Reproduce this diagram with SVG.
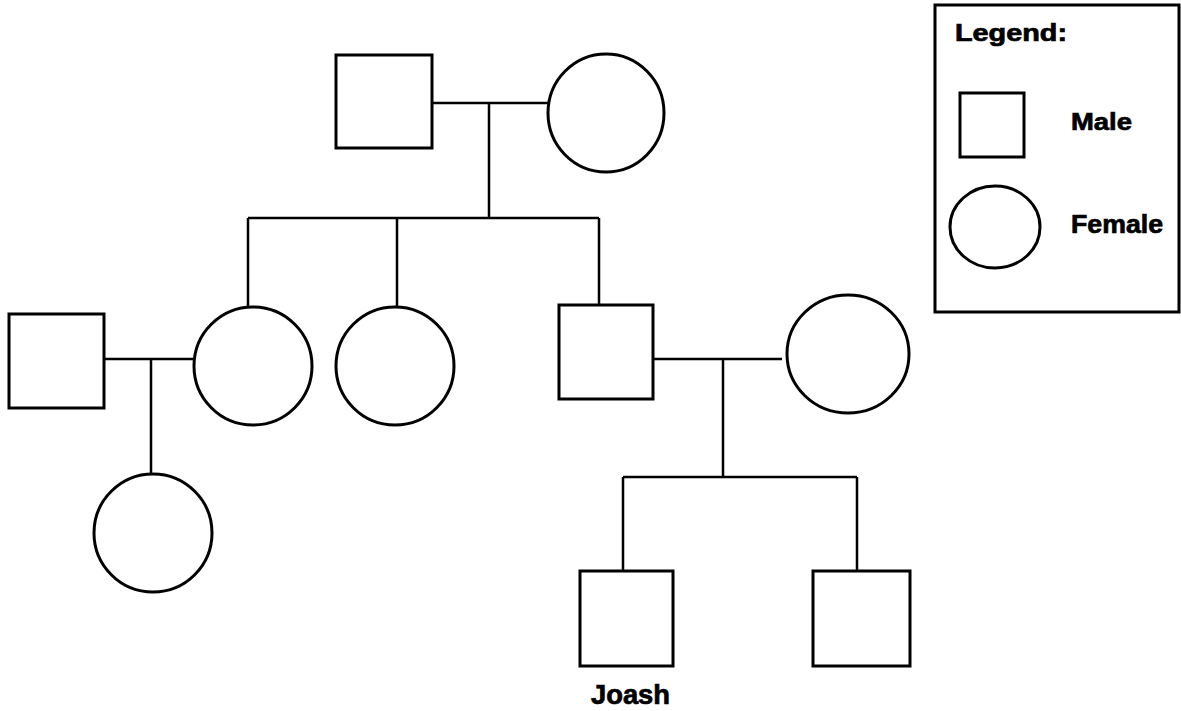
<svg xmlns="http://www.w3.org/2000/svg" width="1181" height="711" viewBox="0 0 1181 711">
<style>
.m{fill:#fff;stroke:#000;stroke-width:3}
.f{fill:#fff;stroke:#000;stroke-width:3}
.c{fill:none;stroke:#000;stroke-width:2.5}
.t{font-family:"Liberation Sans",Arial,sans-serif;font-weight:bold;fill:#000;stroke:#000;stroke-width:0.7}
</style>
<rect width="1181" height="711" fill="#fff"/>
<g id="connectors" class="c">
<path d="M432,103H548 M489,103V218 M248,218H599 M248,218V307 M397,218V307 M599,218V305"/>
<path d="M104,359H194 M151,359V474"/>
<path d="M653,359H782 M723,359V477 M623,477H857 M623,477V571 M857,477V571"/>
</g>
<g id="gf"><rect class="m" x="336" y="55" width="96" height="93"/></g>
<g id="gm"><ellipse class="f" cx="606" cy="113" rx="58" ry="59"/></g>
<g id="d1"><ellipse class="f" cx="253" cy="366" rx="59" ry="59"/></g>
<g id="d2"><ellipse class="f" cx="395" cy="366" rx="59" ry="59"/></g>
<g id="s1"><rect class="m" x="559" y="305" width="94" height="94"/></g>
<g id="h1"><rect class="m" x="9" y="314" width="95" height="94"/></g>
<g id="w1"><ellipse class="f" cx="848" cy="354" rx="61" ry="59"/></g>
<g id="gd"><ellipse class="f" cx="153" cy="533" rx="59" ry="59"/></g>
<g id="joash"><rect class="m" x="580" y="571" width="93" height="95"/>
<text class="t" x="591" y="704" font-size="27" textLength="79" lengthAdjust="spacingAndGlyphs">Joash</text></g>
<g id="gs2"><rect class="m" x="813" y="571" width="97" height="95"/></g>
<g id="legend">
<rect x="935" y="5" width="244" height="307" fill="#fff" stroke="#000" stroke-width="3"/>
<text class="t" x="955" y="41" font-size="23" textLength="112" lengthAdjust="spacingAndGlyphs">Legend:</text>
<rect class="m" x="960" y="93" width="64" height="64"/>
<text class="t" x="1071" y="130" font-size="24" textLength="61" lengthAdjust="spacingAndGlyphs">Male</text>
<ellipse class="f" cx="995" cy="227" rx="45" ry="41"/>
<text class="t" x="1071" y="233" font-size="25" textLength="92" lengthAdjust="spacingAndGlyphs">Female</text>
</g>
</svg>
